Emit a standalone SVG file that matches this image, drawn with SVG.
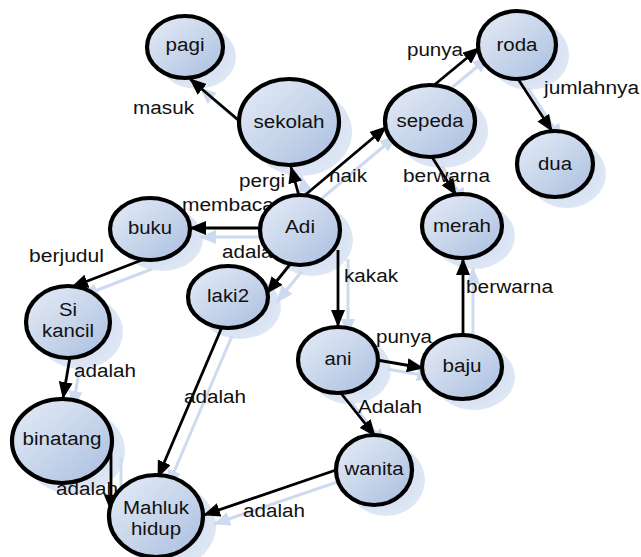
<svg xmlns="http://www.w3.org/2000/svg" width="641" height="557" viewBox="0 0 641 557">
  <defs>
    <linearGradient id="nodeFill" x1="0" y1="0" x2="1" y2="1">
      <stop offset="0" stop-color="#e6ecf6"/>
      <stop offset="0.55" stop-color="#c6d4ea"/>
      <stop offset="1" stop-color="#a8bde0"/>
    </linearGradient>
    <radialGradient id="shadeFill" cx="0.45" cy="0.45" r="0.6">
      <stop offset="0" stop-color="#c9d7ee"/>
      <stop offset="1" stop-color="#e0e8f5"/>
    </radialGradient>
    <marker id="arrow" viewBox="0 0 17 14" refX="16" refY="7" markerWidth="17" markerHeight="14" orient="auto" markerUnits="userSpaceOnUse">
      <path d="M0,0 L17,7 L0,14 z" fill="#000"/>
    </marker>
    <marker id="arrowShade" viewBox="0 0 17 14" refX="16" refY="7" markerWidth="17" markerHeight="14" orient="auto" markerUnits="userSpaceOnUse">
      <path d="M0,0 L17,7 L0,14 z" fill="#cddaef"/>
    </marker>
  </defs>
  <style>
    .node ellipse { fill: url(#nodeFill); stroke: #000; stroke-width: 4.2; }
    .shade ellipse { fill: url(#shadeFill); }
    .shade path { fill: none; stroke: #cddaef; stroke-width: 3; marker-end: url(#arrowShade); }
    .edge path { fill: none; stroke: #000; stroke-width: 2.8; marker-end: url(#arrow); }
    text { font-family: "Liberation Sans", Arial, sans-serif; font-size: 18px; fill: #111; }
    .node text { text-anchor: middle; }
  </style>

  <rect width="641" height="557" fill="#fff"/>

  <!-- soft drop shadows behind nodes and connectors -->
  <g id="shadows" class="shade">
    <g transform="translate(12,10)">
      <ellipse cx="185" cy="47" rx="39" ry="32"/>
      <ellipse cx="289" cy="122" rx="51" ry="44"/>
      <ellipse cx="430" cy="121" rx="46" ry="37"/>
      <ellipse cx="517" cy="45" rx="40" ry="35"/>
      <ellipse cx="555" cy="164" rx="39" ry="34"/>
      <ellipse cx="462" cy="226" rx="41" ry="33"/>
      <ellipse cx="150" cy="229" rx="41" ry="32"/>
      <ellipse cx="300" cy="230" rx="41" ry="36"/>
      <ellipse cx="228" cy="297" rx="41" ry="32"/>
      <ellipse cx="68" cy="322" rx="43" ry="37"/>
      <ellipse cx="338" cy="360" rx="41" ry="34"/>
      <ellipse cx="462" cy="367" rx="41" ry="33"/>
      <ellipse cx="62" cy="441" rx="51" ry="43"/>
      <ellipse cx="374" cy="470" rx="39" ry="36"/>
      <ellipse cx="156" cy="516" rx="48" ry="42"/>
    </g>
    <g transform="translate(10,9)">
      <path d="M243,124 L190,79"/>
      <path d="M299,196 L291,167"/>
      <path d="M304,196 L386,127"/>
      <path d="M433,86 L479,48"/>
      <path d="M518,79 L552,131"/>
      <path d="M432,157 L456,195"/>
      <path d="M260,228 L190,228"/>
      <path d="M292,262 L267,293"/>
      <path d="M338,250 L338,326"/>
      <path d="M377,360 L423,368"/>
      <path d="M463,335 L463,259"/>
      <path d="M142,260 L72,287"/>
      <path d="M70,357 L63,398"/>
      <path d="M222,327 L158,477"/>
      <path d="M111,448 L111,511"/>
      <path d="M336,470 L204,515"/>
      <path d="M340,392 L375,436"/>
    </g>
  </g>

  <!-- relations with their labels -->
  <g id="connectors" class="edge">
    <path d="M243,124 L190,79"/>
    <text x="133" y="114" textLength="61" lengthAdjust="spacingAndGlyphs">masuk</text>
    <path d="M299,196 L291,167"/>
    <text x="239" y="187" textLength="46" lengthAdjust="spacingAndGlyphs">pergi</text>
    <path d="M304,196 L386,127"/>
    <text x="329" y="182" textLength="38" lengthAdjust="spacingAndGlyphs">naik</text>
    <path d="M433,86 L479,48"/>
    <text x="407" y="56" textLength="56" lengthAdjust="spacingAndGlyphs">punya</text>
    <path d="M518,79 L552,131"/>
    <text x="544" y="94" textLength="95" lengthAdjust="spacingAndGlyphs">jumlahnya</text>
    <path d="M432,157 L456,195"/>
    <text x="403" y="182" textLength="87" lengthAdjust="spacingAndGlyphs">berwarna</text>
    <path d="M260,228 L190,228"/>
    <text x="182" y="211" textLength="92" lengthAdjust="spacingAndGlyphs">membaca</text>
    <path d="M292,262 L267,293"/>
    <text x="222" y="258" textLength="62" lengthAdjust="spacingAndGlyphs">adalah</text>
    <path d="M338,250 L338,326"/>
    <text x="344" y="282" textLength="54" lengthAdjust="spacingAndGlyphs">kakak</text>
    <path d="M377,360 L423,368"/>
    <text x="376" y="343" textLength="56" lengthAdjust="spacingAndGlyphs">punya</text>
    <path d="M463,335 L463,259"/>
    <text x="466" y="293" textLength="87" lengthAdjust="spacingAndGlyphs">berwarna</text>
    <path d="M142,260 L72,287"/>
    <text x="29" y="262" textLength="75" lengthAdjust="spacingAndGlyphs">berjudul</text>
    <path d="M70,357 L63,398"/>
    <text x="74" y="377" textLength="62" lengthAdjust="spacingAndGlyphs">adalah</text>
    <path d="M222,327 L158,477"/>
    <text x="184" y="403" textLength="62" lengthAdjust="spacingAndGlyphs">adalah</text>
    <path d="M111,448 L111,511"/>
    <text x="56" y="495" textLength="62" lengthAdjust="spacingAndGlyphs">adalah</text>
    <path d="M336,470 L204,515"/>
    <text x="243" y="517" textLength="62" lengthAdjust="spacingAndGlyphs">adalah</text>
    <path d="M340,392 L375,436"/>
    <text x="358" y="413" textLength="64" lengthAdjust="spacingAndGlyphs">Adalah</text>
  </g>

  <!-- concept nodes -->
  <g id="node-pagi" class="node">
    <ellipse cx="185" cy="47" rx="38" ry="31"/>
    <text x="185" y="51" textLength="39" lengthAdjust="spacingAndGlyphs">pagi</text>
  </g>
  <g id="node-sekolah" class="node">
    <ellipse cx="289" cy="122" rx="50" ry="43"/>
    <text x="289" y="128" textLength="71" lengthAdjust="spacingAndGlyphs">sekolah</text>
  </g>
  <g id="node-sepeda" class="node">
    <ellipse cx="430" cy="121" rx="45" ry="36"/>
    <text x="430" y="127" textLength="67" lengthAdjust="spacingAndGlyphs">sepeda</text>
  </g>
  <g id="node-roda" class="node">
    <ellipse cx="517" cy="45" rx="39" ry="34"/>
    <text x="517" y="51" textLength="41" lengthAdjust="spacingAndGlyphs">roda</text>
  </g>
  <g id="node-dua" class="node">
    <ellipse cx="555" cy="164" rx="38" ry="33"/>
    <text x="555" y="170" textLength="34" lengthAdjust="spacingAndGlyphs">dua</text>
  </g>
  <g id="node-merah" class="node">
    <ellipse cx="462" cy="226" rx="40" ry="32"/>
    <text x="462" y="232" textLength="58" lengthAdjust="spacingAndGlyphs">merah</text>
  </g>
  <g id="node-buku" class="node">
    <ellipse cx="150" cy="229" rx="40" ry="31"/>
    <text x="150" y="234" textLength="44" lengthAdjust="spacingAndGlyphs">buku</text>
  </g>
  <g id="node-adi" class="node">
    <ellipse cx="300" cy="230" rx="40" ry="35"/>
    <text x="300" y="233" textLength="30" lengthAdjust="spacingAndGlyphs">Adi</text>
  </g>
  <g id="node-laki2" class="node">
    <ellipse cx="228" cy="297" rx="40" ry="31"/>
    <text x="228" y="302" textLength="42" lengthAdjust="spacingAndGlyphs">laki2</text>
  </g>
  <g id="node-sikancil" class="node">
    <ellipse cx="68" cy="322" rx="42" ry="36"/>
    <text x="68" y="316" textLength="18" lengthAdjust="spacingAndGlyphs">Si</text>
    <text x="68" y="337" textLength="52" lengthAdjust="spacingAndGlyphs">kancil</text>
  </g>
  <g id="node-ani" class="node">
    <ellipse cx="338" cy="360" rx="40" ry="33"/>
    <text x="338" y="365" textLength="27" lengthAdjust="spacingAndGlyphs">ani</text>
  </g>
  <g id="node-baju" class="node">
    <ellipse cx="462" cy="367" rx="40" ry="32"/>
    <text x="462" y="372" textLength="39" lengthAdjust="spacingAndGlyphs">baju</text>
  </g>
  <g id="node-binatang" class="node">
    <ellipse cx="62" cy="441" rx="50" ry="42"/>
    <text x="62" y="445" textLength="79" lengthAdjust="spacingAndGlyphs">binatang</text>
  </g>
  <g id="node-wanita" class="node">
    <ellipse cx="374" cy="470" rx="38" ry="35"/>
    <text x="374" y="475" textLength="59" lengthAdjust="spacingAndGlyphs">wanita</text>
  </g>
  <g id="node-mahluk" class="node">
    <ellipse cx="156" cy="516" rx="47" ry="41"/>
    <text x="156" y="514" textLength="66" lengthAdjust="spacingAndGlyphs">Mahluk</text>
    <text x="156" y="535" textLength="50" lengthAdjust="spacingAndGlyphs">hidup</text>
  </g>
</svg>
